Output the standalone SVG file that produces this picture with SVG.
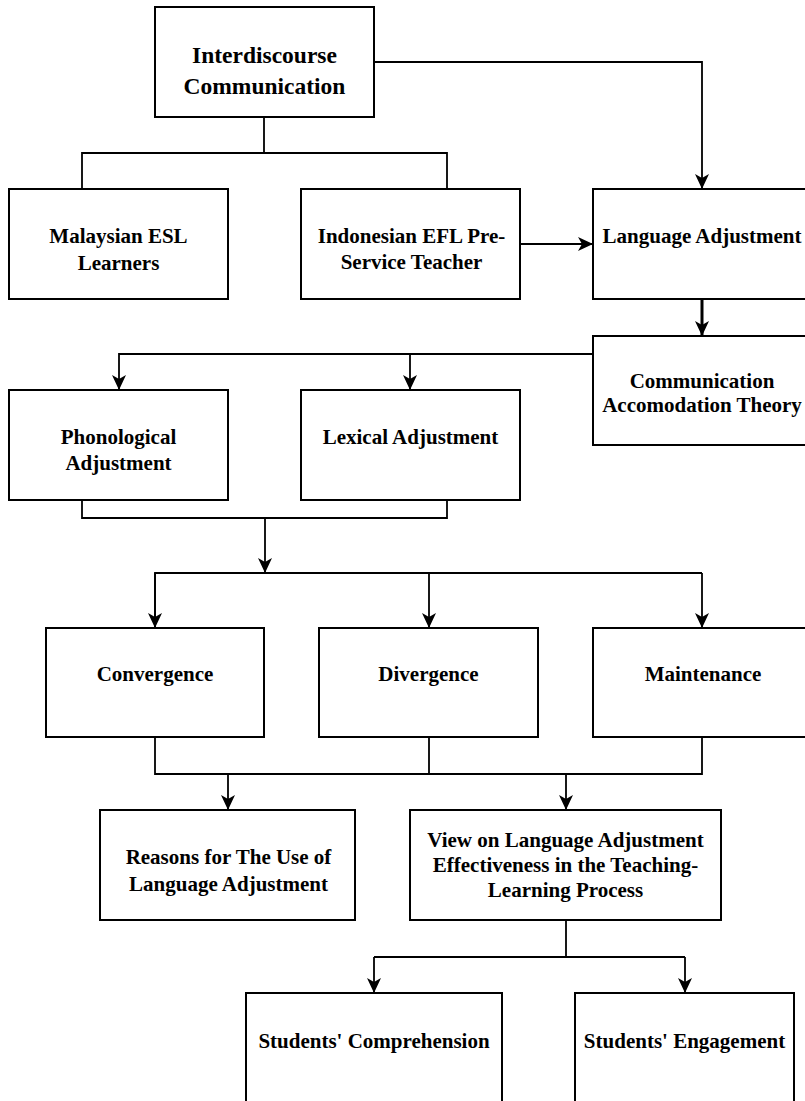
<svg xmlns="http://www.w3.org/2000/svg" width="805" height="1101" viewBox="0 0 805 1101">
<style>
rect.box{fill:#fff;stroke:#000;stroke-width:2}
text{font-family:"Liberation Serif","Times New Roman",serif;font-weight:bold;font-size:21px;fill:#000;text-anchor:middle}
.conn path{fill:none;stroke:#000;stroke-width:1.8}
</style>
<defs>
<marker id="arr" viewBox="0 0 15 14" refX="15" refY="7" markerWidth="15" markerHeight="14" markerUnits="userSpaceOnUse" orient="auto">
<path d="M0,0 L15,7 L0,14 L4,7 Z" fill="#000"/>
</marker>
</defs>
<rect width="805" height="1101" fill="#fff"/>
<g class="conn" id="connectors">
<path d="M374,62 H702 V189" marker-end="url(#arr)"/>
<path d="M264,117 V153 M82,189 V153 H447 V189"/>
<path d="M520,244 H593" marker-end="url(#arr)"/>
<path d="M702,299 V336" marker-end="url(#arr)" style="stroke-width:3"/>
<path d="M593,354 H119 V390" marker-end="url(#arr)"/>
<path d="M410,354 V390" marker-end="url(#arr)"/>
<path d="M82,500 V518 H447 V500"/>
<path d="M265,518 V573" marker-end="url(#arr)"/>
<path d="M155,628 V573 H702"/>
<path d="M155,573 V628" marker-end="url(#arr)"/>
<path d="M429,573 V628" marker-end="url(#arr)"/>
<path d="M702,573 V628" marker-end="url(#arr)"/>
<path d="M155,737 V774 H702 V737 M429,737 V774"/>
<path d="M228,774 V810" marker-end="url(#arr)"/>
<path d="M566,774 V810" marker-end="url(#arr)"/>
<path d="M566,920 V957 M374,957 H685"/>
<path d="M374,957 V993" marker-end="url(#arr)"/>
<path d="M685,957 V993" marker-end="url(#arr)"/>
</g>
<g id="interdiscourse">
<rect class="box" x="155" y="7" width="219" height="110"/>
<text x="264.5" y="63" style="font-size:23.5px">Interdiscourse</text>
<text x="264.5" y="94" style="font-size:23.5px">Communication</text>
</g>
<g id="malaysian">
<rect class="box" x="9" y="189" width="219" height="110"/>
<text x="118.5" y="243">Malaysian ESL</text>
<text x="118.5" y="270">Learners</text>
</g>
<g id="indonesian">
<rect class="box" x="301" y="189" width="219" height="110"/>
<text x="411.5" y="243">Indonesian EFL Pre-</text>
<text x="411.5" y="269">Service Teacher</text>
</g>
<g id="language-adjustment">
<rect class="box" x="593" y="189" width="220" height="110"/>
<text x="702" y="243">Language Adjustment</text>
</g>
<g id="cat">
<rect class="box" x="593" y="336" width="220" height="109"/>
<text x="702" y="388">Communication</text>
<text x="702" y="412">Accomodation Theory</text>
</g>
<g id="phonological">
<rect class="box" x="9" y="390" width="219" height="110"/>
<text x="118.5" y="444">Phonological</text>
<text x="118.5" y="470">Adjustment</text>
</g>
<g id="lexical">
<rect class="box" x="301" y="390" width="219" height="110"/>
<text x="410.5" y="444">Lexical Adjustment</text>
</g>
<g id="convergence">
<rect class="box" x="46" y="628" width="218" height="109"/>
<text x="155" y="681">Convergence</text>
</g>
<g id="divergence">
<rect class="box" x="319" y="628" width="219" height="109"/>
<text x="428.5" y="681">Divergence</text>
</g>
<g id="maintenance">
<rect class="box" x="593" y="628" width="220" height="109"/>
<text x="703" y="681">Maintenance</text>
</g>
<g id="reasons">
<rect class="box" x="100" y="810" width="255" height="110"/>
<text x="228.5" y="864">Reasons for The Use of</text>
<text x="228.5" y="891">Language Adjustment</text>
</g>
<g id="view">
<rect class="box" x="410" y="810" width="311" height="110"/>
<text x="565.5" y="847">View on Language Adjustment</text>
<text x="565.5" y="872">Effectiveness in the Teaching-</text>
<text x="565.5" y="897">Learning Process</text>
</g>
<g id="comprehension">
<rect class="box" x="246" y="993" width="256" height="112"/>
<text x="374" y="1048">Students'  Comprehension</text>
</g>
<g id="engagement">
<rect class="box" x="575" y="993" width="219" height="112"/>
<text x="684.5" y="1048">Students'  Engagement</text>
</g>
</svg>
